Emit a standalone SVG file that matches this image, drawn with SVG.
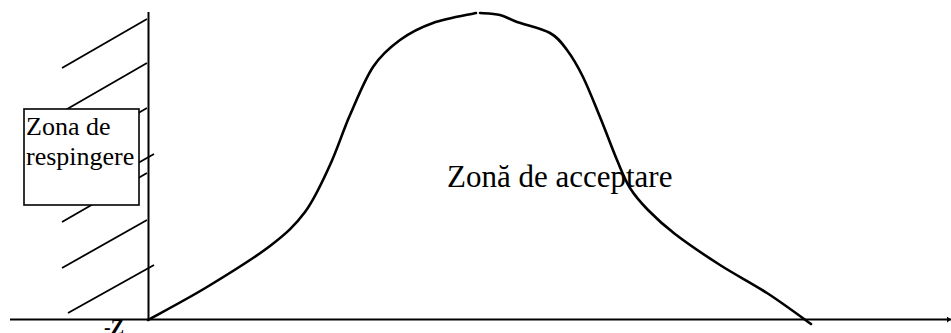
<svg xmlns="http://www.w3.org/2000/svg" width="951" height="333" viewBox="0 0 951 333">
<style>
.hatch{stroke:#000;stroke-width:1.8;fill:none}
.axis{stroke:#000;stroke-width:2;fill:none}
.curve{stroke:#000;stroke-width:2.6;fill:none;stroke-linecap:round}
.lbl{fill:#000}
</style>
<defs>
<marker id="arr" markerWidth="4" markerHeight="6" refX="4" refY="3" orient="auto" markerUnits="userSpaceOnUse">
<path d="M0,0 L4,3 L0,6 Z" fill="#000"/>
</marker>
</defs>
<rect width="951" height="333" fill="#fff"/>
<g id="hatching">
<line class="hatch" x1="62" y1="68" x2="147" y2="19"/>
<line class="hatch" x1="62" y1="112" x2="147" y2="63"/>
<line class="hatch" x1="62" y1="157" x2="147" y2="108"/>
<line class="hatch" x1="69" y1="202" x2="154" y2="154"/>
<line class="hatch" x1="62" y1="222" x2="147" y2="173"/>
<line class="hatch" x1="62" y1="268" x2="147" y2="220"/>
<line class="hatch" x1="68" y1="313" x2="154" y2="265"/>
</g>
<g id="rejection-zone">
<rect x="24" y="109" width="115" height="96" fill="#fff" stroke="#000" stroke-width="1.6"/>
<text class="lbl" x="26" y="135" font-size="26" font-family="'Liberation Serif', 'Times New Roman', 'DejaVu Serif', serif">Zona de</text>
<text class="lbl" x="26" y="165" font-size="26" font-family="'Liberation Serif', 'Times New Roman', 'DejaVu Serif', serif">respingere</text>
</g>
<g id="connectors">
<line class="axis" x1="10" y1="319.5" x2="951" y2="319.5" marker-end="url(#arr)"/>
<line class="axis" x1="148.5" y1="12" x2="148.5" y2="320"/>
</g>
<g id="curve">
<path class="curve" d="M148,320 C157.8,314.5 186.7,299.3 207,287 C227.3,274.7 253.7,258.5 270,246 C286.3,233.5 295,225.5 305,212 C315,198.5 322.5,181.2 330,165 C337.5,148.8 342.8,131.3 350,115 C357.2,98.7 364.7,79.5 373,67 C381.3,54.5 390,47.3 400,40 C410,32.7 420.3,27.5 433,23 C445.7,18.5 468.8,14.7 476,13"/>
<path class="curve" d="M480,13 C483.3,13.3 493.8,13.5 500,15 C506.2,16.5 508.7,19 517,22 C525.3,25 541.7,28.3 550,33 C558.3,37.7 561.5,42.7 567,50 C572.5,57.3 577.5,65.8 583,77 C588.5,88.2 594.3,103.2 600,117 C605.7,130.8 612,148.2 617,160 C622,171.8 624.8,179.7 630,188 C635.2,196.3 640.5,202.3 648,210 C655.5,217.7 663,224.8 675,234 C687,243.2 704.7,255.2 720,265 C735.3,274.8 751.8,283.2 767,293 C782.2,302.8 803.7,318.8 811,324"/>
</g>
<g id="acceptance-zone">
<text class="lbl" x="447" y="187" font-size="31" font-family="'Liberation Serif', 'Times New Roman', 'DejaVu Serif', serif">Zonă de acceptare</text>
</g>
<g id="critical-label">
<text class="lbl" x="104" y="334" font-size="20" font-weight="bold" font-family="'Liberation Serif', 'Times New Roman', 'DejaVu Serif', serif">-Z</text>
</g>
</svg>
